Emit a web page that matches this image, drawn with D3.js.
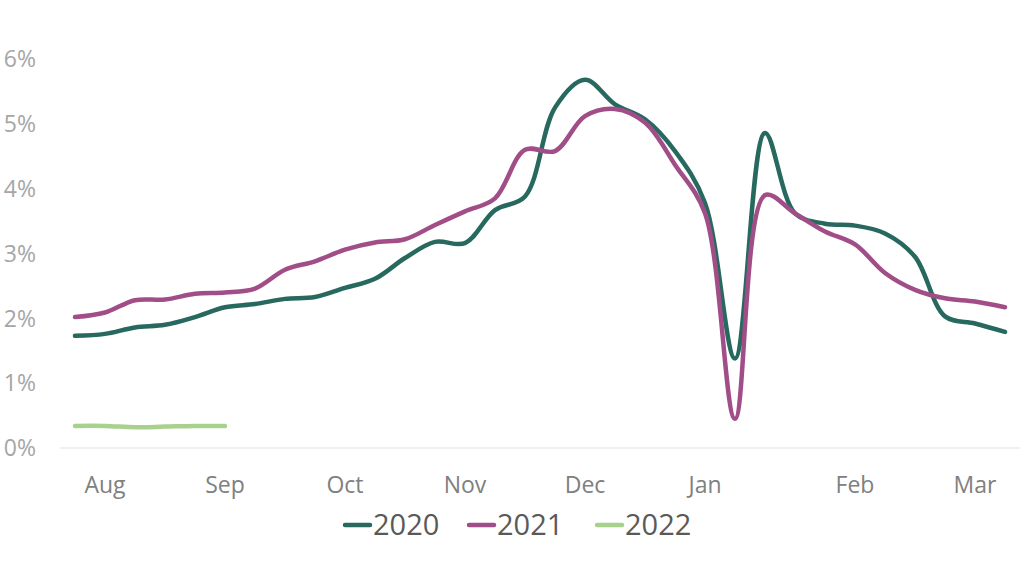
<!DOCTYPE html>
<html>
<head>
<meta charset="utf-8">
<script src="https://cdn.jsdelivr.net/npm/d3@7"></script>
<style>
  html, body { margin: 0; padding: 0; background: #fff; }
  svg { display: block; font-family: "Open Sans", "Segoe UI", sans-serif; }
</style>
</head>
<body>
<svg id="chart" width="1024" height="561"></svg>
<script>
// weekly points, Aug -> Mar (32 weeks), labels only on month starts
const weeks = d3.range(32);
const monthIdx = [1, 5, 9, 13, 17, 21, 26, 30];
const monthNames = ["Aug", "Sep", "Oct", "Nov", "Dec", "Jan", "Feb", "Mar"];
const yTicks = [0, 1, 2, 3, 4, 5, 6];

const years = ["2020", "2021", "2022"];
const colors = ["#27695e", "#a14d87", "#a9d18e"];

const s2020 = [1.73, 1.76, 1.86, 1.90, 2.02, 2.17, 2.22, 2.30, 2.33, 2.47, 2.61, 2.93, 3.18, 3.16, 3.67, 3.88,
               5.25, 5.68, 5.30, 5.07, 4.58, 3.78, 1.38, 4.86, 3.62, 3.46, 3.43, 3.31, 2.95, 2.03, 1.92, 1.79];
const s2021 = [2.02, 2.09, 2.28, 2.29, 2.38, 2.40, 2.46, 2.75, 2.88, 3.06, 3.17, 3.22, 3.44, 3.65, 3.85, 4.60,
               4.58, 5.12, 5.23, 5.02, 4.37, 3.62, 0.45, 3.90, 3.62, 3.34, 3.14, 2.70, 2.44, 2.31, 2.26, 2.17];
const s2022 = [0.34, 0.34, 0.32, 0.33, 0.34, 0.34];

const seriesList = [s2020, s2021, s2022];

const svg = d3.select("#chart");

const x = d3.scaleBand().domain(weeks).range([60, 1020]);
const y = d3.scaleLinear().domain([0, 6]).range([448, 59]);
const cx = i => x(i) + x.bandwidth() / 2;

// baseline
svg.append("line")
   .attr("x1", 60).attr("x2", 1020)
   .attr("y1", y(0)).attr("y2", y(0))
   .style("stroke", "#e3e3e3")
   .style("stroke-width", 1.2);

// y labels
svg.append("g").selectAll("text")
   .data(yTicks)
   .join("text")
   .attr("x", 36)
   .attr("y", d => y(d))
   .attr("dy", "0.36em")
   .attr("text-anchor", "end")
   .style("fill", "#a6a6a6")
   .style("font-size", "23px")
   .text(d => d + "%");

// x labels
svg.append("g").selectAll("text")
   .data(monthIdx)
   .join("text")
   .attr("x", d => cx(d))
   .attr("y", 493)
   .attr("text-anchor", "middle")
   .style("fill", "#808080")
   .style("font-size", "23px")
   .text((d, i) => monthNames[i]);

const line = d3.line()
   .x((d, i) => cx(i))
   .y(d => y(d))
   .curve(d3.curveCatmullRom.alpha(0.5));

svg.append("g").selectAll("path")
   .data(seriesList)
   .join("path")
   .attr("d", d => line(d))
   .style("fill", "none")
   .style("stroke", (d, i) => colors[i])
   .style("stroke-width", 4.5)
   .style("stroke-linecap", "round")
   .style("stroke-linejoin", "round");

// legend
const legendX = [345, 469, 597];
const leg = svg.append("g").selectAll("g")
   .data(years)
   .join("g")
   .attr("transform", (d, i) => "translate(" + legendX[i] + ",525)");

leg.append("line")
   .attr("x1", 0).attr("x2", 25)
   .attr("y1", 0).attr("y2", 0)
   .style("stroke", (d, i) => colors[i])
   .style("stroke-width", 4.5)
   .style("stroke-linecap", "round");

leg.append("text")
   .attr("x", 28)
   .attr("y", 0)
   .attr("dy", "0.36em")
   .style("fill", "#595959")
   .style("font-size", "29px")
   .text(d => d);
</script>
</body>
</html>
